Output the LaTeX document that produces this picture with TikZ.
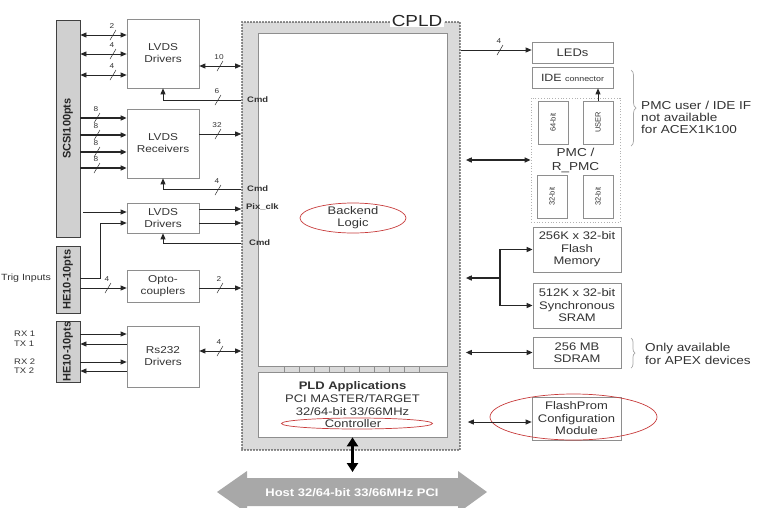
\documentclass[tikz,border=0pt]{standalone}
\usepackage{fontspec}
\setmainfont{Liberation Sans}[FakeStretch=1.18]
\newfontfamily\plainfont{Liberation Sans}
\usetikzlibrary{arrows.meta,decorations.pathreplacing,shapes.geometric,calc}
\definecolor{txt}{HTML}{333333}
\definecolor{boxline}{HTML}{8E8E8E}
\definecolor{barfill}{HTML}{D0D0D0}
\definecolor{bandfill}{HTML}{DADADA}
\definecolor{ovalred}{HTML}{C83C3C}
\definecolor{pcigray}{HTML}{A8A8A8}
\definecolor{wire}{HTML}{262626}
\newcommand\mkvert[1]{\rotatebox{90}{#1}}
\tikzset{
 blk/.style={draw=boxline, line width=0.7pt, fill=white, align=center, inner sep=0pt, text=txt, font=\fontsize{10}{12}\selectfont, minimum width=72pt},
 mem/.style={blk, minimum width=88pt, font=\fontsize{11}{12.5}\selectfont},
 bar/.style={draw=black!75, line width=0.8pt, fill=barfill, inner sep=0pt, minimum width=24pt, text=black!85, font=\plainfont\bfseries\fontsize{11}{12}\selectfont},
 vbox/.style={blk, minimum width=30pt, minimum height=43pt, font=\plainfont\fontsize{7.5}{8}\selectfont},
 con/.style={draw=wire, line width=0.8pt, -{Triangle[length=6pt,width=5pt]}},
 dcon/.style={draw=wire, line width=0.8pt, {Triangle[length=6pt,width=5pt]}-{Triangle[length=6pt,width=5pt]}},
 heavy/.style={line width=1.4pt},
 lbl/.style={text=txt, inner sep=0pt},
 sig/.style={lbl, font=\bfseries\fontsize{8}{9}\selectfont, anchor=west},
 oval/.style={draw=ovalred, line width=0.7pt, ellipse, inner sep=0pt},
 busmark/.pic={\draw[line width=0.5pt, draw=wire] (-3pt,-5pt) -- (3pt,5pt);
   \node[lbl, font=\fontsize{7}{8}\selectfont] at (-1pt,8.5pt) {#1};},
}
\begin{document}
\begin{tikzpicture}[x=1pt,y=-1pt]
\useasboundingbox (0,0) rectangle (760,507);
\fill[white] (0,0) rectangle (760,507);

% ---- left connectors blocks
\node[bar, minimum height=217pt] (scsi) at (68,128.5) {\mkvert{SCSI100pts}};
\node[bar, minimum height=67pt] (he1) at (68,279.5) {\mkvert{HE10-10pts}};
\node[bar, minimum height=61pt] (he2) at (68,351.5) {\mkvert{HE10-10pts}};

\node[blk, minimum height=69pt] (lvds1) at (163,53.5) {LVDS\\Drivers};
\node[blk, minimum height=69pt] (lvdsr) at (163,143.5) {LVDS\\Receivers};
\node[blk, minimum height=30pt] (lvds2) at (163,218) {LVDS\\Drivers};
\node[blk, minimum height=32pt] (opto) at (163,286) {Opto-\\couplers};
\node[blk, minimum height=61pt] (rs232) at (163,356.5) {Rs232\\Drivers};

% ---- CPLD
\node[draw=black!85, line width=1.6pt, line cap=round, dash pattern=on 0pt off 3pt, fill=bandfill, minimum width=218pt, minimum height=428pt, inner sep=0pt] (cpld) at (351,236) {};
\node[fill=white, draw=boxline, line width=0.6pt, minimum width=189pt, minimum height=333pt, inner sep=0pt] (core) at (352.5,199.5) {};
\node[blk, minimum width=189pt, minimum height=65pt] (pld) at (352.5,404.5) {};
\foreach \x in {284,299,...,419} \draw[boxline, line width=0.6pt] (core.south -| \x,0) -- (pld.north -| \x,0);
\node[lbl, fill=white, inner xsep=2pt, font=\fontsize{16}{18}\selectfont, text=black!85] (cpldt) at (417,21) {CPLD};
\node[oval, minimum width=106pt, minimum height=30pt] (beoval) at (353,218) {};
\node[lbl, align=center, font=\fontsize{11}{12}\selectfont] (be) at (353,218) {Backend\\Logic};
\node[lbl, align=center, font=\fontsize{11}{13}\selectfont] (pldtxt) at (352.5,399) {\textbf{PLD Applications}\\PCI MASTER/TARGET\\32/64-bit 33/66MHz};
\node[oval, minimum width=151pt, minimum height=11pt] (ctrloval) at (357,423.5) {};
\node[lbl, font=\fontsize{11}{13}\selectfont] (ctrl) at (353,424) {Controller};

\node[sig] (cmd1) at (247,100) {Cmd};
\node[sig] (cmd2) at (247,189) {Cmd};
\node[sig] (pix) at (246,207) {Pix\_clk};
\node[sig] (cmd3) at (249,243) {Cmd};

% ---- left wiring
\draw[dcon] (scsi.east |- 0,35) -- (lvds1.west |- 0,35);
\draw[dcon] (scsi.east |- 0,54) -- (lvds1.west |- 0,54);
\draw[dcon] (scsi.east |- 0,75) -- (lvds1.west |- 0,75);
\pic at (113,35) {busmark=2};
\pic at (113,54) {busmark=4};
\pic at (113,75) {busmark=4};
\draw[dcon] (lvds1.east |- 0,66) -- (cpld.west |- 0,66);
\pic at (220,66) {busmark=10};
\draw[con] (cpld.west |- cmd1.west) -| (lvds1.south);
\pic at (218,100) {busmark=6};

\draw[con, heavy] (scsi.east |- 0,118) -- (lvdsr.west |- 0,118);
\draw[con, heavy] (scsi.east |- 0,135) -- (lvdsr.west |- 0,135);
\draw[con, heavy] (scsi.east |- 0,152) -- (lvdsr.west |- 0,152);
\draw[con, heavy] (scsi.east |- 0,168) -- (lvdsr.west |- 0,168);
\pic at (97,118) {busmark=8};
\pic at (97,135) {busmark=8};
\pic at (97,152) {busmark=8};
\pic at (97,168) {busmark=8};
\draw[con] (lvdsr.east |- 0,134) -- (cpld.west |- 0,134);
\pic at (218,134) {busmark=32};
\draw[con] (cpld.west |- cmd2.west) -| (lvdsr.south);
\pic at (218,190) {busmark=4};

\draw[con] ([xshift=3pt]scsi.east |- 0,212) -- (lvds2.west |- 0,212);
\node[lbl, anchor=west, font=\fontsize{9}{10}\selectfont] (trig) at (1,278) {Trig Inputs};
\draw[con] (he1.east |- 0,278) -| (100,223) -- (lvds2.west |- 0,223);
\draw[con] (lvds2.east |- 0,209) -- (cpld.west |- 0,209);
\draw[con] (lvds2.east |- 0,223) -- (cpld.west |- 0,223);
\draw[con] (cpld.west |- cmd3.west) -| (lvds2.south);

\draw[con] (he1.east |- 0,288) -- (opto.west |- 0,288);
\pic at (108,288) {busmark=4};
\draw[con] (opto.east |- 0,288) -- (cpld.west |- 0,288);
\pic at (220,288) {busmark=2};

\node[lbl, anchor=west, font=\fontsize{8}{9}\selectfont] (rx1) at (14,334) {RX 1};
\node[lbl, anchor=west, font=\fontsize{8}{9}\selectfont] (tx1) at (14,344) {TX 1};
\node[lbl, anchor=west, font=\fontsize{8}{9}\selectfont] (rx2) at (14,362) {RX 2};
\node[lbl, anchor=west, font=\fontsize{8}{9}\selectfont] (tx2) at (14,371) {TX 2};
\draw[con] (he2.east |- rx1) -- (rs232.west |- rx1);
\draw[con] (rs232.west |- tx1) -- (he2.east |- tx1);
\draw[con] (he2.east |- rx2) -- (rs232.west |- rx2);
\draw[con] (rs232.west |- tx2) -- (he2.east |- tx2);
\draw[dcon] (rs232.east |- 0,351) -- (cpld.west |- 0,351);
\pic at (220,351) {busmark=4};

% ---- right side blocks
\node[blk, minimum width=81pt, minimum height=21pt, font=\fontsize{11}{12}\selectfont] (leds) at (572.5,52.5) {LEDs};
\node[blk, minimum width=81pt, minimum height=21pt, font=\fontsize{10.5}{12}\selectfont] (ide) at (572.5,77.5) {IDE {\fontsize{7.5}{8}\selectfont connector}};
\node[draw=gray!60, dotted, line width=0.8pt, minimum width=89pt, minimum height=124pt, inner sep=0pt, align=center, text=txt, font=\fontsize{11.5}{14}\selectfont] (pmc) at (575.5,160) {PMC /\\R\_PMC};
\node[vbox] (b64) at (553,122.5) {\mkvert{64-bit}};
\node[vbox] (user) at (598,122.5) {\mkvert{USER}};
\node[vbox] (b32a) at (552,196.5) {\mkvert{32-bit}};
\node[vbox] (b32b) at (598,196.5) {\mkvert{32-bit}};
\node[mem, minimum height=45pt] (flash) at (577,249.5) {256K x 32-bit\\Flash\\Memory};
\node[mem, minimum height=45pt] (sram) at (577,305.5) {512K x 32-bit\\Synchronous\\SRAM};
\node[mem, minimum height=31pt] (sdram) at (577,352.5) {256 MB\\SDRAM};
\node[mem, minimum width=89pt, minimum height=43pt] (fprom) at (576.5,418.5) {FlashProm\\Configuration\\Module};
\draw[draw=ovalred, line width=0.7pt] (fprom.center) ++(-3,-1.5) ellipse [x radius=83.5, y radius=23];

\draw[gray!70, line width=0.7pt, decorate, decoration={brace, amplitude=5pt}] (631,70) -- (631,146);
\node[lbl, anchor=west, align=left, font=\fontsize{11.5}{12}\selectfont] (pmcnote) at (641,117) {PMC user / IDE IF\\not available\\for ACEX1K100};
\draw[gray!70, line width=0.7pt, decorate, decoration={brace, amplitude=4pt}] (631,338) -- (631,368);
\node[lbl, anchor=west, align=left, font=\fontsize{11.5}{12.5}\selectfont] (apex) at (645,354) {Only available\\for APEX devices};

% ---- right wiring
\draw[con] (cpld.east |- 0,50) -- (leds.west |- 0,50);
\pic at (500,50) {busmark=4};
\draw[con] (user.north) -- (ide.south -| user.north);
\draw[dcon, heavy, shorten <=5pt] (cpld.east |- pmc.west) -- (pmc.west);
\coordinate (fork) at (500,278);
\draw[con, heavy, shorten >=5pt] (fork) -- (cpld.east |- fork);
\draw[con, heavy] (fork) |- (flash.west);
\draw[con, heavy] (fork) |- (sram.west);
\draw[dcon, heavy, shorten <=5pt] (cpld.east |- sdram.west) -- (sdram.west);
\draw[dcon, shorten <=7pt] (cpld.east |- 0,422) -- (fprom.west |- 0,422);

% ---- host PCI bus
\fill[pcigray] (217,492) -- (247,471) -- (247,478) -- (458,478) -- (458,471) -- (487,492) -- (458,513) -- (458,506) -- (247,506) -- (247,513) -- cycle;
\node[text=white, inner sep=0pt, font=\bfseries\fontsize{11}{12}\selectfont] (pci) at (352,493) {Host 32/64-bit 33/66MHz PCI};
\coordinate (pcitop) at (352.5,472);
\draw[line width=3.5pt, draw=black, {Triangle[length=9pt,width=11pt]}-{Triangle[length=9pt,width=11pt]}] (pld.south) -- (pcitop);
\end{tikzpicture}
\end{document}
